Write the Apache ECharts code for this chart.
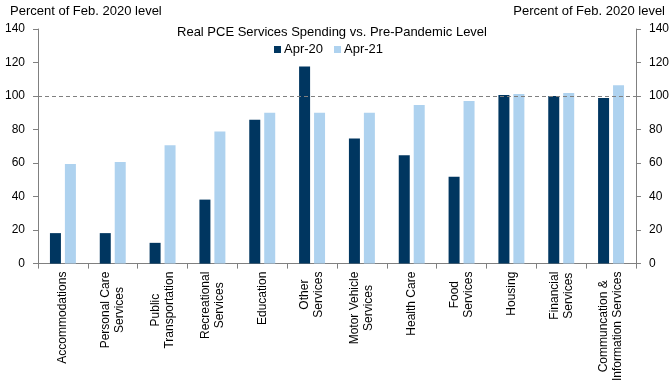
<!DOCTYPE html>
<html><head><meta charset="utf-8">
<script src="https://cdn.jsdelivr.net/npm/echarts@6/dist/echarts.min.js"></script>
<style>html,body{margin:0;padding:0;background:#fff}#c{width:672px;height:384px}</style>
</head><body><div id="c"></div>
<script>
var categories = ['Accommodations','Personal Care\nServices','Public\nTransportation','Recreational\nServices','Education','Other\nServices','Motor Vehicle\nServices','Health Care','Food\nServices','Housing','Financial\nServices','Communcation &\nInformation Services'];
var apr20 = [18.2, 18.2, 12.4, 38.2, 85.9, 117.6, 74.7, 64.7, 51.8, 100.6, 100, 98.8];
var apr21 = [59.4, 60.6, 70.6, 78.8, 90, 90, 90, 94.7, 97, 101.2, 101.8, 106.5];
var yTicks = [0, 20, 40, 60, 80, 100, 120, 140];
var refLevel = 100;

var FONT = 'Liberation Sans, Arial, sans-serif';
var chart = echarts.init(document.getElementById('c'), null, {renderer:'canvas'});
var yAxisBase = {
  type:'value', min: yTicks[0], max: yTicks[yTicks.length-1], interval: yTicks[1]-yTicks[0],
  splitLine:{show:false},
  axisLine:{show:true, lineStyle:{color:'#808080', width:1}},
  axisTick:{show:true, length:5, lineStyle:{color:'#808080'}},
  axisLabel:{color:'#000', fontFamily:FONT, fontSize:12, margin:13}
};
chart.setOption({
  animation:false,
  textStyle:{fontFamily:FONT},
  title:{text:'Real PCE Services Spending vs. Pre-Pandemic Level', left:327, textAlign:'center', top:21,
    textStyle:{fontFamily:FONT, fontSize:13, fontWeight:'normal', color:'#000'}},
  legend:{data:['Apr-20','Apr-21'], left:269, top:38, icon:'rect', itemWidth:7, itemHeight:7, itemGap:11,
    textStyle:{fontFamily:FONT, fontSize:13, color:'#000', padding:[0,0,0,-2]}},
  graphic:[
    {type:'text', left:10, top:5, style:{text:'Percent of Feb. 2020 level', font:'13px '+FONT, fill:'#000'}},
    {type:'text', right:7, top:5, style:{text:'Percent of Feb. 2020 level', font:'13px '+FONT, fill:'#000'}}
  ],
  grid:{left:38, right:36, top:29, bottom:119, containLabel:false},
  xAxis:{type:'category', data:categories,
    axisLine:{lineStyle:{color:'#808080'}},
    axisTick:{show:true, length:5, alignWithLabel:false, lineStyle:{color:'#808080'}},
    axisLabel:{rotate:90, interval:0, margin:8, color:'#000', fontFamily:FONT, fontSize:12, lineHeight:14,
      formatter:function(v){return v.split('\n').map(function(s){return '{c|'+s+'}';}).join('\n');},
      rich:{c:{align:'center', fontFamily:FONT, fontSize:12, color:'#000', lineHeight:14}}}
  },
  yAxis:[
    Object.assign({}, yAxisBase, {position:'left'}),
    Object.assign({}, yAxisBase, {position:'right'})
  ],
  series:[
    {name:'Apr-20', type:'bar', data:apr20, barWidth:11, barGap:'36%', itemStyle:{color:'#003660'},
      markLine:{silent:true, symbol:'none', label:{show:false},
        lineStyle:{type:[4,3], color:'#808080', width:1}, data:[{yAxis:refLevel}]}},
    {name:'Apr-21', type:'bar', data:apr21, barWidth:11, itemStyle:{color:'#aed2ef'}}
  ]
});
</script></body></html>
